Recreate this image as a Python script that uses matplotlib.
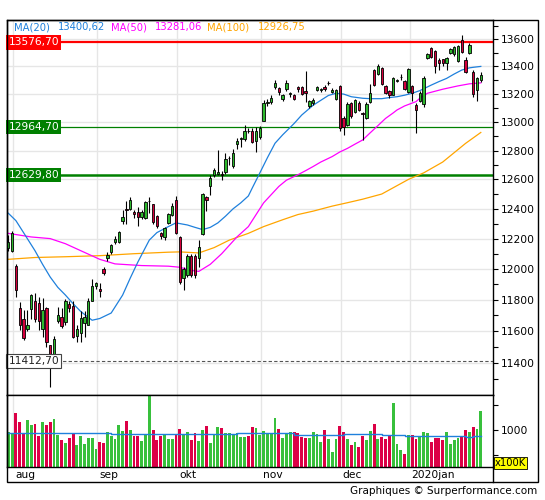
import numpy as np
import matplotlib
matplotlib.use('Agg')
import matplotlib.pyplot as plt
from matplotlib.ticker import FixedLocator, FuncFormatter, NullFormatter
from matplotlib.patches import Rectangle

# daily candles, index 0 = first visible session (end of july)
opens = [12135, 12120, 12020, 11750, 11675, 11615, 11740, 11790, 11782, 11615,
         11750, 11510, 11455, 11665, 11692, 11656, 11770, 11757, 11569, 11590,
         11650, 11641, 11795, 11888, 11871, 11999, 12070, 12111, 12175, 12175,
         12317, 12396, 12398, 12378, 12376, 12343, 12335, 12450, 12430, 12354,
         12237, 12211, 12305, 12358, 12460, 12210, 11938, 11961, 12085, 12085,
         12070, 12231, 12480, 12552, 12632, 12640, 12635, 12648, 12745, 12690,
         12846, 12880, 12882, 12940, 12934, 12865, 12898, 13010, 13134, 13140,
         13248, 13241, 13163, 13234, 13200, 13194, 13253, 13248, 13222, 13117,
         13134, 13232, 13232, 13253, 13280, 13212, 13167, 13260, 13026, 12978,
         13135, 13075, 13138, 13062, 13026, 13142, 13374, 13342, 13386, 13259,
         13220, 13196, 13298, 13322, 13293, 13215, 13259, 13124, 13153, 13131,
         13465, 13534, 13516, 13447, 13452, 13428, 13496, 13489, 13442, 13595,
         13445, 13500, 13362, 13228, 13300]
highs = [12226, 12250, 12030, 11785, 11735, 11735, 11835, 11845, 11819, 11810,
         11755, 11515, 11570, 11755, 11749, 11808, 11795, 11790, 11640, 11731,
         11731, 11810, 11935, 11915, 11910, 12015, 12111, 12165, 12215, 12250,
         12390, 12455, 12480, 12390, 12414, 12390, 12455, 12480, 12435, 12360,
         12245, 12280, 12370, 12440, 12485, 12215, 12010, 12100, 12095, 12100,
         12190, 12505, 12486, 12632, 12680, 12805, 12655, 12780, 12765, 12810,
         12885, 12898, 12980, 12955, 12955, 12968, 12975, 13160, 13165, 13190,
         13300, 13250, 13200, 13300, 13215, 13200, 13260, 13258, 13367, 13160,
         13170, 13260, 13245, 13265, 13295, 13245, 13240, 13265, 13040, 13140,
         13145, 13165, 13148, 13075, 13140, 13276, 13385, 13415, 13395, 13265,
         13230, 13320, 13310, 13345, 13300, 13390, 13265, 13135, 13220, 13330,
         13500, 13545, 13520, 13460, 13458, 13470, 13535, 13548, 13558, 13632,
         13470, 13575, 13374, 13325, 13362]
lows = [12115, 12110, 11820, 11610, 11545, 11600, 11680, 11660, 11606, 11560,
        11500, 11254, 11440, 11650, 11620, 11640, 11720, 11555, 11530, 11531,
        11562, 11638, 11790, 11870, 11820, 11960, 12050, 12100, 12165, 12170,
        12300, 12300, 12390, 12340, 12286, 12330, 12330, 12370, 12300, 12270,
        12200, 12190, 12300, 12350, 12230, 11900, 11862, 11950, 11950, 11940,
        12015, 12225, 12385, 12496, 12620, 12630, 12598, 12640, 12700, 12680,
        12810, 12828, 12870, 12925, 12850, 12790, 12880, 13005, 13115, 13130,
        13240, 13190, 13150, 13225, 13180, 13155, 13215, 13190, 13146, 13100,
        13120, 13220, 13215, 13225, 13265, 13205, 13155, 12940, 12906, 12970,
        13030, 13065, 13080, 12877, 13020, 13135, 13260, 13335, 13265, 13200,
        13170, 13190, 13285, 13300, 13230, 13205, 13150, 12925, 13145, 13110,
        13455, 13465, 13350, 13374, 13400, 13374, 13490, 13480, 13430, 13500,
        13350, 13490, 13181, 13153, 13290]
closes = [12180, 12240, 11860, 11640, 11555, 11637, 11830, 11680, 11662, 11735,
          11530, 11450, 11550, 11700, 11633, 11790, 11745, 11562, 11611, 11683,
          11690, 11789, 11888, 11907, 11854, 11973, 12091, 12158, 12200, 12244,
          12347, 12390, 12461, 12362, 12347, 12378, 12448, 12456, 12310, 12287,
          12220, 12270, 12362, 12420, 12240, 11912, 11998, 12085, 11961, 11960,
          12147, 12500, 12462, 12609, 12662, 12648, 12630, 12740, 12750, 12780,
          12866, 12885, 12934, 12935, 12860, 12934, 12957, 13134, 13146, 13170,
          13283, 13217, 13194, 13278, 13206, 13165, 13234, 13198, 13210, 13151,
          13160, 13248, 13236, 13234, 13283, 13230, 13228, 12955, 12968, 13131,
          13040, 13155, 13089, 13055, 13131, 13211, 13269, 13405, 13276, 13211,
          13196, 13313, 13301, 13325, 13240, 13381, 13211, 13089, 13211, 13317,
          13492, 13472, 13403, 13423, 13423, 13460, 13526, 13540, 13550, 13508,
          13360, 13557, 13200, 13313, 13338]

# volume in units of 100K
volume = [960, 933, 1340, 1160, 933, 1200, 1100, 1127, 887, 1160,
          1100, 1160, 1220, 900, 800, 747, 840, 933, 700, 880,
          720, 840, 840, 620, 760, 747, 960, 887, 820, 1100,
          980, 1180, 1000, 880, 880, 780, 900, 1687, 1000, 800,
          880, 920, 820, 820, 900, 1020, 920, 967, 800, 940,
          780, 1000, 1080, 740, 927, 1060, 1047, 940, 940, 900,
          933, 867, 867, 880, 1060, 1047, 900, 980, 920, 920,
          1247, 1020, 847, 920, 960, 960, 940, 867, 847, 847,
          960, 920, 767, 1000, 813, 567, 820, 1080, 960, 820,
          700, 767, 660, 880, 800, 980, 1127, 820, 860, 820,
          900, 1547, 720, 600, 520, 900, 900, 820, 860, 960,
          940, 767, 840, 840, 800, 960, 720, 800, 840, 880,
          1000, 960, 1060, 1020, 1387]
vol_avg_idx = [0, 15, 16, 27, 40, 60, 75, 88, 98, 104, 120, 122, 124]
vol_avg = [933, 940, 933, 920, 920, 933, 900, 920, 900, 880, 860, 880, 880]

# moving averages (index, value)
ma20_idx = [0, 2, 4, 7, 9, 11, 13, 15, 17, 19, 22, 24, 27, 30, 32, 34, 37, 39,
            42, 44, 47, 49, 51, 53, 55, 57, 59, 61, 63, 64, 66, 68, 70, 72, 75,
            77, 80, 82, 84, 86, 88, 90, 93, 95, 98, 100, 102, 104, 106, 108,
            111, 113, 115, 117, 119, 121, 122, 124]
ma20 = [12370, 12320, 12240, 12120, 12030, 11947, 11880, 11830, 11775, 11725,
        11669, 11680, 11715, 11830, 11940, 12045, 12190, 12240, 12280, 12305,
        12291, 12275, 12260, 12275, 12305, 12350, 12400, 12440, 12487, 12540,
        12644, 12750, 12851, 12910, 12990, 13050, 13120, 13155, 13190, 13206,
        13200, 13181, 13170, 13167, 13167, 13175, 13181, 13192, 13206, 13225,
        13265, 13290, 13313, 13345, 13374, 13390, 13394, 13400.62]
ma50_idx = [0, 6, 11, 15, 19, 24, 28, 35, 42, 45, 48, 50, 53, 56, 60, 63, 67, 71,
            73, 76, 78, 80, 82, 85, 87, 89, 91, 93, 95, 97, 99, 101, 102, 104,
            107, 108, 110, 114, 118, 121, 124]
ma50 = [12235, 12211, 12200, 12166, 12120, 12063, 12033, 12022, 12018, 12011,
        11990, 11984, 12030, 12100, 12211, 12280, 12440, 12552, 12595, 12632,
        12660, 12689, 12720, 12758, 12790, 12815, 12845, 12874, 12925, 12975,
        13026, 13065, 13086, 13115, 13146, 13170, 13206, 13235, 13259, 13274,
        13281.06]
ma100_idx = [0, 7, 15, 24, 33, 42, 45, 50, 54, 58, 63, 67, 72, 76, 80, 85, 89,
             93, 98, 105, 109, 114, 120, 124]
ma100 = [12063, 12075, 12080, 12087, 12100, 12110, 12112, 12105, 12140, 12190,
         12235, 12280, 12326, 12361, 12384, 12418, 12441, 12465, 12500, 12600,
         12645, 12720, 12850, 12926.75]

months = ['aug', 'sep', 'okt', 'nov', 'dec', '2020jan']
month_first = [2, 24, 45, 67, 88, 106]

levels = [13576.70, 12964.70, 12629.80]
low_mark = 11412.70

W, H = 545, 500
FS = 7.2
fig = plt.figure(figsize=(W / 100, H / 100), dpi=100)
ax = fig.add_axes([7 / W, 1 - 395 / H, 486 / W, 375 / H])
axv = fig.add_axes([7 / W, 1 - 467 / H, 486 / W, 72 / H], sharex=ax)

GREEN = '#2db82d'
RED = '#d4003c'
GRID = '#e6e6e6'
C20, C50, C100 = '#1f80dc', '#ff00ff', '#ffa500'

x = np.arange(len(closes))
o, h, l, c = map(np.array, (opens, highs, lows, closes))
up = c >= o
cols = np.where(up, GREEN, RED)

ax.set_yscale('log')
ax.set_ylim(11203, 13744)
ax.set_xlim(-0.34, 127.2)

majors = list(range(11400, 13601, 200))
minors = [v for v in range(11300, 13701, 100) if v not in majors]
ax.yaxis.set_major_locator(FixedLocator(majors))
ax.yaxis.set_major_formatter(FuncFormatter(lambda v, p: f'{v:.0f}'))
ax.yaxis.set_minor_locator(FixedLocator(minors))
ax.yaxis.set_minor_formatter(NullFormatter())
ax.yaxis.tick_right()
ax.tick_params(axis='y', which='both', direction='out', length=3.5, width=0.8,
               labelsize=FS + 0.5, pad=2)
ax.tick_params(axis='x', which='both', bottom=False, labelbottom=False)
for v in majors:
    ax.axhline(v, color=GRID, lw=1, zorder=0)
for m in month_first:
    ax.axvline(m - 0.7, color=GRID, lw=1, zorder=0)
    axv.axvline(m - 0.7, color=GRID, lw=1, zorder=0)

# support / resistance lines
ax.axhline(levels[0], color='#ff0000', lw=1.6, zorder=1)
ax.axhline(levels[1], color='#008000', lw=0.9, zorder=1)
ax.axhline(levels[2], color='#008000', lw=1.8, zorder=1)
ax.axhline(low_mark, color='#555555', lw=0.8, ls=(0, (3, 2)), zorder=1)

# moving averages
ax.plot(ma100_idx, ma100, color=C100, lw=0.9, zorder=2)
ax.plot(ma50_idx, ma50, color=C50, lw=0.9, zorder=2)
ax.plot(ma20_idx, ma20, color=C20, lw=0.9, zorder=2)

# candles
ax.vlines(x, l, h, color='black', lw=0.8, zorder=3)
body = np.maximum(np.abs(c - o), 2)
ax.bar(x, body, bottom=np.minimum(o, c), width=0.62, color=cols,
       edgecolor='black', linewidth=0.6, zorder=4)

# level labels on the left
trans = ax.get_yaxis_transform()
box_kw = dict(boxstyle='square,pad=0.2', lw=0)
ax.text(0.003, levels[0], '13576,70', transform=trans, color='white', fontsize=FS + 0.5,
        va='center', ha='left', zorder=6, bbox=dict(fc='#ff0000', **box_kw))
ax.text(0.003, levels[1], '12964,70', transform=trans, color='white', fontsize=FS + 0.5,
        va='center', ha='left', zorder=6, bbox=dict(fc='#008000', **box_kw))
ax.text(0.003, levels[2], '12629,80', transform=trans, color='white', fontsize=FS + 0.5,
        va='center', ha='left', zorder=6, bbox=dict(fc='#008000', **box_kw))
ax.text(0.003, low_mark, '11412,70', transform=trans, color='#222222', fontsize=FS + 0.5,
        va='center', ha='left', zorder=6,
        bbox=dict(boxstyle='square,pad=0.2', fc='white', ec='#444444', lw=0.8))

# legend line at the top
legend = [('MA(20)', 14, C20), ('13400,62', 58, C20), ('MA(50)', 111, C50),
          ('13281,06', 155, C50), ('MA(100)', 207, C100), ('12926,75', 258, C100)]
for txt, px, col in legend:
    fig.text(px / W, 1 - 27 / H, txt, color=col, fontsize=FS, va='center', ha='left')

# volume panel
axv.bar(x, volume, width=0.75, color=np.where(up, '#38c03c', '#dc0046'), zorder=2)
axv.plot(vol_avg_idx, vol_avg, color=C20, lw=1.0, drawstyle='steps-post', zorder=3)
axv.set_ylim(260, 1700)
axv.yaxis.tick_right()
axv.set_yticks([500, 1000, 1500])
axv.set_yticklabels(['', '1000', ''])
axv.tick_params(axis='y', direction='out', length=3.5, width=0.8, labelsize=FS + 0.5, pad=2)
axv.tick_params(axis='x', bottom=False, labelbottom=False)

for name, m in zip(months, month_first):
    axv.text(m - 0.2, -0.04, name, transform=axv.get_xaxis_transform(),
             fontsize=FS + 0.5, va='top', ha='left')

for a in (ax, axv):
    for s in a.spines.values():
        s.set_linewidth(1)
        s.set_color('black')

fig.text(495 / W, 1 - 463 / H, 'x100K', fontsize=FS, va='center', ha='left',
         bbox=dict(boxstyle='square,pad=0.1', fc='#ffff00', ec='black', lw=0.6))

# outer frame and vertical right rule
fig.patches.append(Rectangle((7 / W, 1 - 482 / H), 531 / W, 462 / H, fill=False,
                             ec='black', lw=1, transform=fig.transFigure))
fig.lines.append(plt.Line2D([493 / W, 493 / W], [1 - 482 / H, 1 - 467 / H],
                            color='black', lw=1, transform=fig.transFigure))

fig.text(537 / W, 1 - 491 / H, 'Graphiques \u00a9 Surperformance.com', fontsize=FS + 0.3,
         va='center', ha='right')

fig.savefig('out.png', dpi=100)
